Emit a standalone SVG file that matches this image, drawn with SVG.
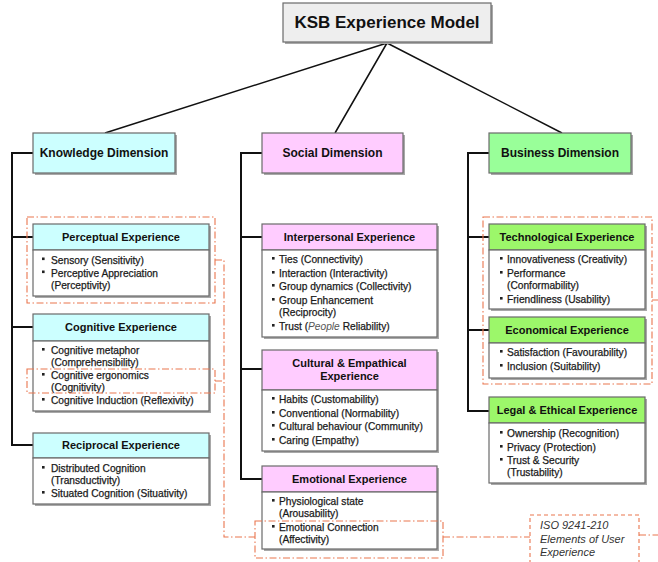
<svg xmlns="http://www.w3.org/2000/svg" width="658" height="562" viewBox="0 0 658 562">
<style>
text{font-family:"Liberation Sans",Arial,sans-serif}
.t{font-size:17px;font-weight:bold;fill:#111;text-anchor:middle}
.d{font-size:12px;font-weight:bold;fill:#111;text-anchor:middle}
.h{font-size:11px;font-weight:bold;fill:#111;text-anchor:middle}
.b{font-size:10.2px;fill:#1a1a1a;stroke:#1a1a1a;stroke-width:0.25}
.n{font-size:11px;font-style:italic;fill:#333}
.box{stroke:#6a6a6a;stroke-width:1.2}
.sh{fill:#a8a8a8}
.k{fill:#ccffff}
.s{fill:#ffccff}
.g{fill:#99ff99}
.gh{fill:#9cf76a}
.w{fill:#fff}
.bl{fill:#222}
.c{stroke:#111;stroke-width:2;fill:none}
.ct{stroke:#111;stroke-width:1.5;fill:none}
.dd{stroke:#e9764f;stroke-width:1.1;fill:none;stroke-dasharray:7 2.5 1.5 2.5}
.ds{stroke:#e9764f;stroke-width:1.1;fill:none;stroke-dasharray:4 3}
</style>

<g id="connectors">
  <path class="ct" d="M387,43 L105,133 M387,43 L335,133 M387,43 L562,133"/>
  <path class="c" d="M33,153 H12 V445 H33 M12,237 H33 M12,327 H33"/>
  <path class="c" d="M262,153 H241 V479 H262 M241,237 H262 M241,369 H262"/>
  <path class="c" d="M489,153 H468 V411 H489 M468,237 H489 M468,330 H489"/>
</g>

<g id="root">
  <rect class="sh" x="285" y="5" width="208" height="39"/>
  <rect class="box" x="283" y="3" width="208" height="39" fill="#eeeeee"/>
  <text class="t" x="387" y="28">KSB Experience Model</text>
</g>

<g id="knowledge">
  <rect class="sh" x="35" y="135" width="142" height="40"/>
  <rect class="box k" x="33" y="133" width="142" height="40"/>
  <text class="d" x="104" y="157">Knowledge Dimension</text>
</g>
<g id="social">
  <rect class="sh" x="264" y="135" width="141" height="40"/>
  <rect class="box s" x="262" y="133" width="141" height="40"/>
  <text class="d" x="332.5" y="157">Social Dimension</text>
</g>
<g id="business">
  <rect class="sh" x="491" y="135" width="142" height="40"/>
  <rect class="box g" x="489" y="133" width="142" height="40"/>
  <text class="d" x="560" y="157">Business Dimension</text>
</g>

<g id="perceptual">
  <rect class="sh" x="35" y="226" width="176" height="72"/>
  <rect class="box k" x="33" y="224" width="176" height="26"/>
  <rect class="box w" x="33" y="250" width="176" height="46"/>
  <text class="h" x="121" y="241">Perceptual Experience</text>
  <rect class="bl" x="42" y="257.5" width="2.6" height="2.6"/>
  <text class="b" x="51" y="263.5">Sensory (Sensitivity)</text>
  <rect class="bl" x="42" y="270.5" width="2.6" height="2.6"/>
  <text class="b" x="51" y="276.5">Perceptive Appreciation</text>
  <text class="b" x="51" y="289">(Perceptivity)</text>
</g>

<g id="cognitive">
  <rect class="sh" x="35" y="316" width="176" height="97"/>
  <rect class="box k" x="33" y="314" width="176" height="27"/>
  <rect class="box w" x="33" y="341" width="176" height="70"/>
  <text class="h" x="121" y="331">Cognitive Experience</text>
  <rect class="bl" x="42" y="348" width="2.6" height="2.6"/>
  <text class="b" x="51" y="354">Cognitive metaphor</text>
  <text class="b" x="51" y="366">(Comprehensibility)</text>
  <rect class="bl" x="42" y="373" width="2.6" height="2.6"/>
  <text class="b" x="51" y="379">Cognitive ergonomics</text>
  <text class="b" x="51" y="391">(Cognitivity)</text>
  <rect class="bl" x="42" y="398" width="2.6" height="2.6"/>
  <text class="b" x="51" y="404">Cognitive Induction (Reflexivity)</text>
</g>

<g id="reciprocal">
  <rect class="sh" x="35" y="435" width="176" height="71"/>
  <rect class="box k" x="33" y="433" width="176" height="25"/>
  <rect class="box w" x="33" y="458" width="176" height="46"/>
  <text class="h" x="121" y="449">Reciprocal Experience</text>
  <rect class="bl" x="42" y="466" width="2.6" height="2.6"/>
  <text class="b" x="51" y="472">Distributed Cognition</text>
  <text class="b" x="51" y="484">(Transductivity)</text>
  <rect class="bl" x="42" y="491" width="2.6" height="2.6"/>
  <text class="b" x="51" y="497">Situated Cognition (Situativity)</text>
</g>

<g id="interpersonal">
  <rect class="sh" x="264" y="226" width="175" height="113"/>
  <rect class="box s" x="262" y="224" width="175" height="26"/>
  <rect class="box w" x="262" y="250" width="175" height="87"/>
  <text class="h" x="349.5" y="241">Interpersonal Experience</text>
  <rect class="bl" x="272" y="257" width="2.6" height="2.6"/>
  <text class="b" x="279" y="263">Ties (Connectivity)</text>
  <rect class="bl" x="272" y="271" width="2.6" height="2.6"/>
  <text class="b" x="279" y="277">Interaction (Interactivity)</text>
  <rect class="bl" x="272" y="284" width="2.6" height="2.6"/>
  <text class="b" x="279" y="290">Group dynamics (Collectivity)</text>
  <rect class="bl" x="272" y="298" width="2.6" height="2.6"/>
  <text class="b" x="279" y="304">Group Enhancement</text>
  <text class="b" x="279" y="316">(Reciprocity)</text>
  <rect class="bl" x="272" y="324" width="2.6" height="2.6"/>
  <text class="b" x="279" y="330">Trust (<tspan font-style="italic" fill="#555" stroke="none">People</tspan> Reliability)</text>
</g>

<g id="cultural">
  <rect class="sh" x="264" y="352" width="175" height="101"/>
  <rect class="box s" x="262" y="350" width="175" height="40"/>
  <rect class="box w" x="262" y="390" width="175" height="61"/>
  <text class="h" x="349.5" y="367">Cultural &amp; Empathical</text>
  <text class="h" x="349.5" y="380">Experience</text>
  <rect class="bl" x="272" y="397" width="2.6" height="2.6"/>
  <text class="b" x="279" y="403">Habits (Customability)</text>
  <rect class="bl" x="272" y="411" width="2.6" height="2.6"/>
  <text class="b" x="279" y="417">Conventional (Normability)</text>
  <rect class="bl" x="272" y="424" width="2.6" height="2.6"/>
  <text class="b" x="279" y="430">Cultural behaviour (Community)</text>
  <rect class="bl" x="272" y="438" width="2.6" height="2.6"/>
  <text class="b" x="279" y="444">Caring (Empathy)</text>
</g>

<g id="emotional">
  <rect class="sh" x="264" y="468" width="175" height="83"/>
  <rect class="box s" x="262" y="466" width="175" height="26"/>
  <rect class="box w" x="262" y="492" width="175" height="57"/>
  <text class="h" x="349.5" y="483">Emotional Experience</text>
  <rect class="bl" x="272" y="499" width="2.6" height="2.6"/>
  <text class="b" x="279" y="505">Physiological state</text>
  <text class="b" x="279" y="517">(Arousability)</text>
  <rect class="bl" x="272" y="525" width="2.6" height="2.6"/>
  <text class="b" x="279" y="531">Emotional Connection</text>
  <text class="b" x="279" y="543">(Affectivity)</text>
</g>

<g id="technological">
  <rect class="sh" x="491" y="226" width="156" height="85"/>
  <rect class="box gh" x="489" y="224" width="156" height="26"/>
  <rect class="box w" x="489" y="250" width="156" height="59"/>
  <text class="h" x="567" y="241">Technological Experience</text>
  <rect class="bl" x="500" y="257" width="2.6" height="2.6"/>
  <text class="b" x="507" y="263">Innovativeness (Creativity)</text>
  <rect class="bl" x="500" y="271" width="2.6" height="2.6"/>
  <text class="b" x="507" y="277">Performance</text>
  <text class="b" x="507" y="289">(Conformability)</text>
  <rect class="bl" x="500" y="297" width="2.6" height="2.6"/>
  <text class="b" x="507" y="303">Friendliness (Usability)</text>
</g>

<g id="economical">
  <rect class="sh" x="491" y="319" width="156" height="61"/>
  <rect class="box gh" x="489" y="317" width="156" height="26"/>
  <rect class="box w" x="489" y="343" width="156" height="35"/>
  <text class="h" x="567" y="334">Economical Experience</text>
  <rect class="bl" x="500" y="350" width="2.6" height="2.6"/>
  <text class="b" x="507" y="356">Satisfaction (Favourability)</text>
  <rect class="bl" x="500" y="364" width="2.6" height="2.6"/>
  <text class="b" x="507" y="370">Inclusion (Suitability)</text>
</g>

<g id="legal">
  <rect class="sh" x="491" y="399" width="156" height="86"/>
  <rect class="box gh" x="489" y="397" width="156" height="26"/>
  <rect class="box w" x="489" y="423" width="156" height="60"/>
  <text class="h" x="567" y="414">Legal &amp; Ethical Experience</text>
  <rect class="bl" x="500" y="431" width="2.6" height="2.6"/>
  <text class="b" x="507" y="437">Ownership (Recognition)</text>
  <rect class="bl" x="500" y="445" width="2.6" height="2.6"/>
  <text class="b" x="507" y="451">Privacy (Protection)</text>
  <rect class="bl" x="500" y="458" width="2.6" height="2.6"/>
  <text class="b" x="507" y="464">Trust &amp; Security</text>
  <text class="b" x="507" y="476">(Trustability)</text>
</g>

<g id="ux-elements">
  <rect class="dd" x="27" y="217" width="188" height="86"/>
  <rect class="dd" x="27" y="369" width="188" height="24"/>
  <rect class="dd" x="255" y="521" width="188" height="37"/>
  <rect class="dd" x="483" y="217" width="169" height="167"/>
  <path class="dd" d="M215,260 H224 V537 H255 M215,381 H224 M443,537 H530 M639,535 H658 M652,300 H658"/>
</g>

<g id="iso-note">
  <rect class="ds" x="530" y="515" width="109" height="52"/>
  <text class="n" x="540" y="529">ISO 9241-210</text>
  <text class="n" x="540" y="543">Elements of User</text>
  <text class="n" x="540" y="556">Experience</text>
</g>
</svg>
